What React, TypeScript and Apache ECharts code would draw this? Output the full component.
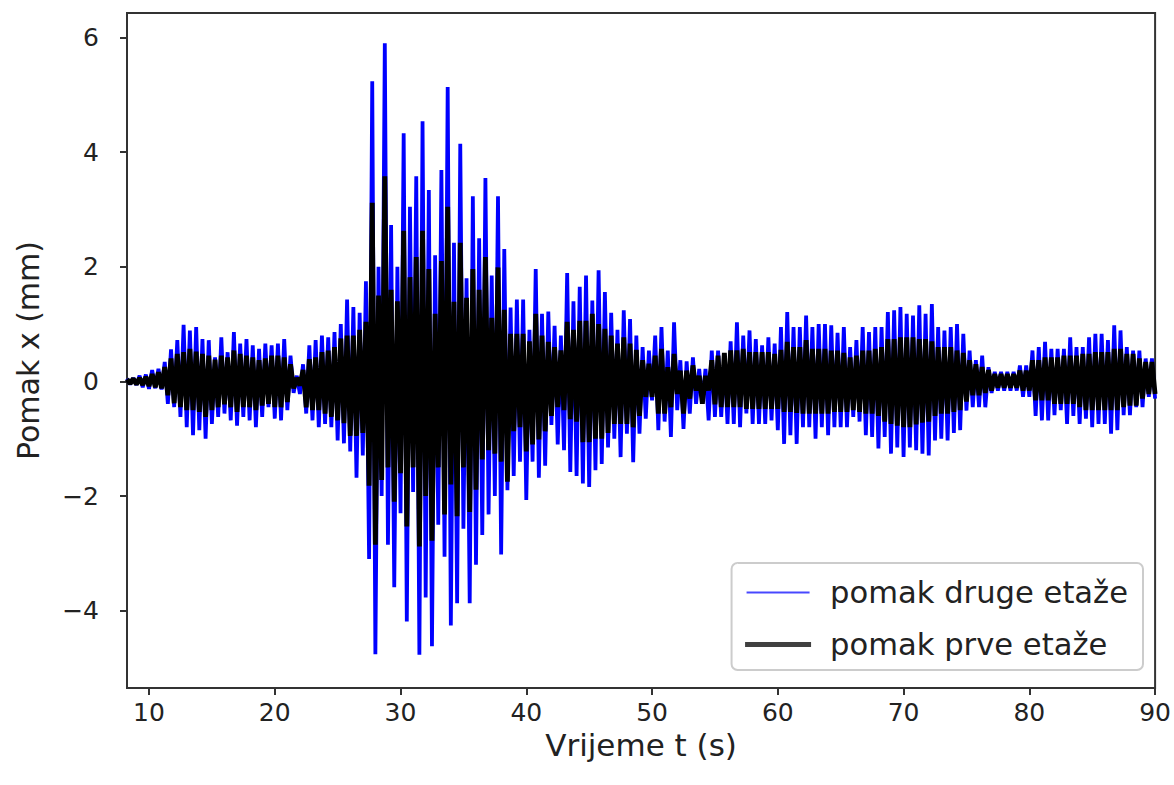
import React, { useEffect, useRef } from "react";
import * as echarts from "echarts";

// time grid: peak (hi) at T0 + STEP*i, trough (lo) half a step later
const T0 = 8.25;
const STEP = 0.5;

const xTicks = [10, 20, 30, 40, 50, 60, 70, 80, 90];
const yTicks = [-4, -2, 0, 2, 4, 6];

const seriesNames = ["pomak druge etaže", "pomak prve etaže"];

// pomak druge etaže (blue) – upper / lower envelope
const blueHi = [
  0.05, 0.06, 0.1, 0.12, 0.2, 0.22, 0.34, 0.56, 0.72, 0.99, 0.89, 0.95, 0.74, 0.72, 0.42, 0.77, 0.51, 0.86, 0.66, 0.74, 0.63, 0.57, 0.66, 0.63, 0.66, 0.74, 0.45, 0.1, 0.3, 0.63, 0.72, 0.8, 0.77, 0.86,
  1.0, 1.43, 1.3, 1.2, 1.75, 5.24, 2.0, 5.9, 2.73, 2.0, 4.33, 3.05, 3.58, 4.54, 3.34, 2.2, 3.69, 5.14, 2.42, 4.15, 1.8, 3.23, 2.5, 3.55, 1.85, 3.23, 2.31, 1.29, 1.43, 1.43, 0.9, 1.96, 1.18, 1.22, 0.97, 0.8, 1.89, 1.4,
  1.65, 1.85, 1.41, 1.94, 1.56, 1.2, 0.9, 1.24, 1.09, 0.8, 0.6, 0.54, 0.8, 0.95, 0.54, 1.03, 0.37, 0.35, 0.42, 0.22, 0.22, 0.54, 0.54, 0.48, 0.7, 1.03,
  0.8, 0.89, 0.74, 0.63, 0.77, 0.66, 0.95, 1.21, 0.95, 0.95, 1.15, 0.95, 1.0, 1.0, 0.98, 0.85, 0.95, 0.6, 0.72, 0.95, 0.86, 0.95, 0.95, 1.21, 1.24, 1.3, 1.18, 1.15, 1.33, 1.18, 1.35, 0.95, 0.89, 0.95, 1.0, 0.83, 0.54, 0.37, 0.45, 0.25,
  0.17, 0.17, 0.17, 0.17, 0.28, 0.28, 0.54, 0.6, 0.69, 0.57, 0.57, 0.57, 0.77, 0.6, 0.6, 0.77, 0.83, 0.83, 0.72, 0.98, 0.89, 0.6, 0.54, 0.54, 0.4, 0.4,
];
const blueLo = [
  -0.05, -0.06, -0.1, -0.13, -0.12, -0.14, -0.39, -0.45, -0.62, -0.8, -0.94, -0.85, -1.0, -0.74, -0.62, -0.56, -0.68, -0.77, -0.62, -0.68, -0.8, -0.62, -0.45, -0.65, -0.68, -0.5, -0.2, -0.22, -0.56, -0.68, -0.8, -0.74, -0.8, -1.03,
  -1.08, -1.22, -1.68, -1.29, -3.1, -4.76, -2.0, -2.85, -3.59, -2.3, -4.19, -1.93, -4.77, -3.77, -4.62, -2.5, -3.06, -4.26, -3.87, -2.57, -3.87, -3.2, -2.68, -2.32, -2.0, -3.02, -1.9, -1.65, -1.4, -2.07, -1.4, -1.68, -1.47, -0.76, -1.1, -1.2, -1.58, -1.65,
  -1.78, -1.84, -1.55, -1.44, -1.15, -1.0, -1.32, -0.91, -1.41, -0.91, -0.65, -0.33, -0.85, -0.7, -0.97, -0.5, -0.83, -0.56, -0.39, -0.39, -0.68, -0.62, -0.62, -0.74, -0.74, -0.8,
  -0.56, -0.74, -0.74, -0.74, -0.68, -0.85, -1.09, -0.94, -1.09, -0.8, -0.8, -1.0, -0.8, -0.94, -0.8, -0.8, -0.8, -0.62, -0.7, -0.94, -0.97, -1.17, -0.97, -1.26, -1.15, -1.32, -1.15, -1.2, -1.26, -1.29, -1.03, -1.0, -1.03, -0.9, -0.85, -0.51, -0.45, -0.45, -0.45, -0.2,
  -0.16, -0.16, -0.16, -0.16, -0.27, -0.27, -0.6, -0.68, -0.68, -0.59, -0.5, -0.74, -0.6, -0.74, -0.65, -0.8, -0.74, -0.74, -0.91, -0.85, -0.59, -0.59, -0.45, -0.45, -0.27, -0.3,
];

// pomak prve etaže (black) – upper / lower envelope
const blackHi = [
  0.04, 0.05, 0.06, 0.08, 0.13, 0.16, 0.25, 0.4, 0.48, 0.51, 0.57, 0.52, 0.48, 0.45, 0.38, 0.45, 0.42, 0.54, 0.48, 0.45, 0.42, 0.37, 0.4, 0.45, 0.45, 0.42, 0.3, 0.06, 0.2, 0.39, 0.42, 0.51, 0.54, 0.6,
  0.75, 0.8, 0.8, 0.9, 1.04, 3.12, 1.5, 3.58, 1.6, 1.4, 2.63, 1.82, 2.17, 2.63, 1.96, 1.18, 2.1, 3.05, 1.39, 2.42, 1.46, 1.96, 1.6, 2.17, 1.11, 1.99, 1.25, 0.83, 0.83, 0.83, 0.7, 1.18, 0.8, 0.69, 0.6, 0.54, 1.04, 0.9,
  1.06, 1.06, 1.18, 1.0, 0.92, 0.8, 0.66, 0.77, 0.66, 0.55, 0.37, 0.31, 0.45, 0.57, 0.25, 0.48, 0.19, 0.19, 0.28, 0.1, 0.1, 0.37, 0.45, 0.5, 0.54, 0.54,
  0.57, 0.51, 0.51, 0.51, 0.51, 0.48, 0.55, 0.69, 0.6, 0.6, 0.72, 0.57, 0.57, 0.57, 0.54, 0.54, 0.5, 0.42, 0.45, 0.54, 0.54, 0.57, 0.6, 0.74, 0.74, 0.77, 0.77, 0.77, 0.74, 0.74, 0.7, 0.6, 0.6, 0.6, 0.54, 0.5, 0.37, 0.3, 0.25, 0.2,
  0.13, 0.13, 0.13, 0.13, 0.19, 0.19, 0.37, 0.37, 0.42, 0.42, 0.42, 0.45, 0.45, 0.45, 0.48, 0.48, 0.51, 0.51, 0.51, 0.57, 0.57, 0.48, 0.48, 0.4, 0.34, 0.34,
];
const blackLo = [
  -0.04, -0.05, -0.06, -0.08, -0.1, -0.12, -0.24, -0.38, -0.45, -0.5, -0.5, -0.53, -0.62, -0.5, -0.45, -0.4, -0.45, -0.53, -0.45, -0.45, -0.5, -0.42, -0.39, -0.45, -0.45, -0.36, -0.12, -0.07, -0.45, -0.5, -0.5, -0.56, -0.62, -0.68,
  -0.73, -0.95, -0.95, -0.9, -1.82, -2.85, -1.72, -1.5, -2.1, -1.6, -2.53, -1.5, -2.88, -2.0, -2.78, -1.5, -2.32, -1.8, -2.35, -1.5, -2.28, -1.89, -1.36, -1.2, -1.26, -1.4, -1.75, -0.87, -0.8, -1.22, -1.1, -1.01, -0.87, -0.6, -0.45, -0.5, -0.66, -0.7,
  -1.06, -1.06, -1.0, -1.0, -0.9, -0.74, -0.74, -0.74, -0.8, -0.6, -0.27, -0.27, -0.56, -0.56, -0.45, -0.22, -0.56, -0.3, -0.16, -0.39, -0.16, -0.4, -0.45, -0.45, -0.45, -0.45,
  -0.48, -0.48, -0.48, -0.48, -0.48, -0.48, -0.53, -0.53, -0.55, -0.56, -0.56, -0.56, -0.56, -0.56, -0.53, -0.53, -0.53, -0.5, -0.53, -0.56, -0.56, -0.6, -0.7, -0.74, -0.77, -0.8, -0.8, -0.75, -0.72, -0.7, -0.6, -0.56, -0.56, -0.53, -0.5, -0.35, -0.24, -0.24, -0.2, -0.16,
  -0.11, -0.11, -0.11, -0.11, -0.16, -0.16, -0.33, -0.33, -0.33, -0.39, -0.39, -0.39, -0.39, -0.45, -0.5, -0.5, -0.5, -0.5, -0.5, -0.5, -0.45, -0.42, -0.42, -0.3, -0.22, -0.22,
];

function zigzag(hi: number[], lo: number[]): [number, number][] {
  const pts: [number, number][] = [];
  for (let i = 0; i < hi.length; i++) {
    pts.push([T0 + STEP * i, hi[i]]);
    pts.push([T0 + STEP * i + STEP / 2, lo[i]]);
  }
  return pts;
}

const FONT = "DejaVu Sans";
const AXIS_COLOR = "#333333";
const TEXT_COLOR = "#222222";

export default function App() {
  const ref = useRef<HTMLDivElement>(null);

  useEffect(() => {
    if (!ref.current) return;
    const chart = echarts.init(ref.current, undefined, { renderer: "svg" });
    chart.setOption({
      animation: false,
      backgroundColor: "#ffffff",
      grid: {
        left: 127,
        right: 16,
        top: 13,
        bottom: 97,
        show: true,
        borderColor: AXIS_COLOR,
        borderWidth: 2,
        backgroundColor: "transparent",
      },
      xAxis: {
        type: "value",
        min: 8.25,
        max: 90,
        name: "Vrijeme t (s)",
        nameLocation: "middle",
        nameGap: 30,
        nameTextStyle: { fontFamily: FONT, fontSize: 31, color: TEXT_COLOR },
        axisLine: { show: true, onZero: false, lineStyle: { color: AXIS_COLOR, width: 2 } },
        axisTick: { show: true, length: 7, lineStyle: { color: AXIS_COLOR, width: 2 }, customValues: xTicks },
        axisLabel: { customValues: xTicks, fontFamily: FONT, fontSize: 25, color: TEXT_COLOR, margin: 12 },
        splitLine: { show: false },
      },
      yAxis: {
        type: "value",
        min: -5.35,
        max: 6.43,
        name: "Pomak x (mm)",
        nameLocation: "middle",
        nameGap: 84,
        nameTextStyle: { fontFamily: FONT, fontSize: 30, color: TEXT_COLOR },
        axisLine: { show: true, onZero: false, lineStyle: { color: AXIS_COLOR, width: 2 } },
        axisTick: { show: true, length: 7, lineStyle: { color: AXIS_COLOR, width: 2 }, customValues: yTicks },
        axisLabel: {
          customValues: yTicks,
          fontFamily: FONT,
          fontSize: 25,
          color: TEXT_COLOR,
          margin: 28,
          formatter: (v: number) => String(v).replace("-", "\u2212"),
        },
        splitLine: { show: false },
      },
      legend: {
        orient: "vertical",
        right: 31,
        top: 563,
        padding: [14, 15, 10, 12],
        itemWidth: 66,
        itemHeight: 5,
        itemGap: 21,
        borderColor: "#cccccc",
        borderWidth: 2,
        borderRadius: 6,
        backgroundColor: "rgba(255,255,255,0.85)",
        textStyle: { fontFamily: FONT, fontSize: 30.6, lineHeight: 30, color: TEXT_COLOR, padding: [0, 0, 0, 14] },
        data: [
          {
            name: seriesNames[0],
            icon: "rect",
            itemStyle: { color: "#4848ff", borderColor: "#ffffff", borderWidth: 3 },
          },
          {
            name: seriesNames[1],
            icon: "rect",
            itemStyle: { color: "#404040", borderWidth: 0 },
          },
        ],
      },
      series: [
        {
          name: seriesNames[0],
          type: "line",
          data: zigzag(blueHi, blueLo),
          symbol: "none",
          color: "#0000ff",
          lineStyle: { color: "#0000ff", width: 3.8, join: "bevel" },
          clip: true,
        },
        {
          name: seriesNames[1],
          type: "line",
          data: zigzag(blackHi, blackLo),
          symbol: "none",
          color: "#000000",
          lineStyle: { color: "#000000", width: 4.8, join: "bevel" },
          clip: true,
        },
      ],
    });
    return () => chart.dispose();
  }, []);

  return (
    <div
      ref={ref}
      style={{ position: "fixed", left: 0, top: 0, width: 1174, height: 785, background: "#fff" }}
    />
  );
}
